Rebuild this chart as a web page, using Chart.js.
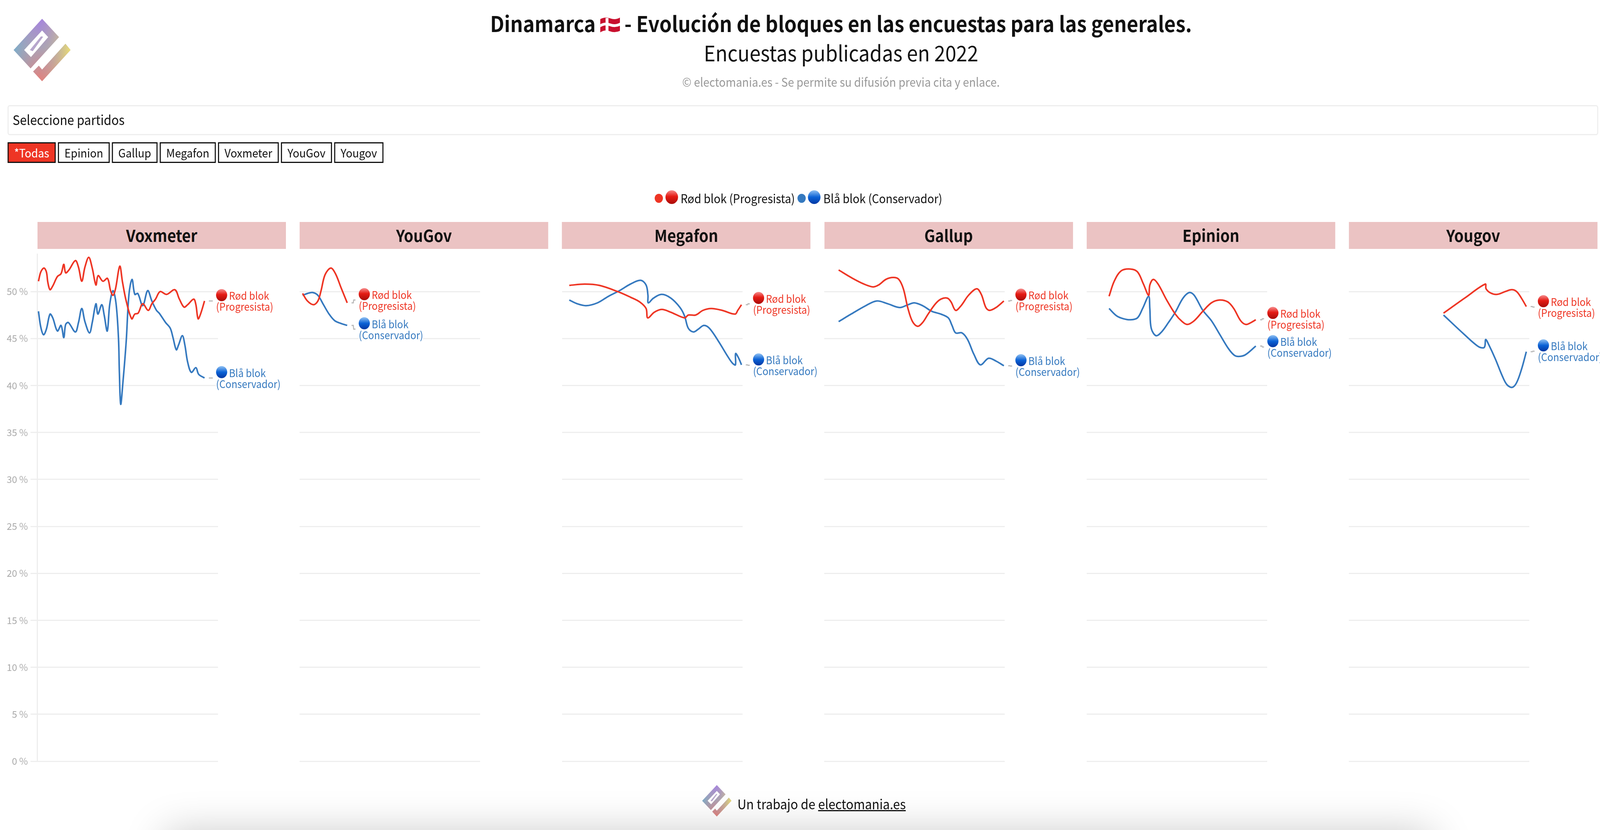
<!DOCTYPE html>
<html lang="es">
<head>
<meta charset="utf-8">
<title>Dinamarca - Evolución de bloques</title>
<script src="https://cdn.jsdelivr.net/npm/chart.js@4"></script>
<style>
    html, body { margin: 0; padding: 0; background: #fff; height: 2124px; overflow: hidden; }
    body { font-family: "Noto Sans CJK JP", "Noto Sans", sans-serif; color: #111; position: relative; }
    #page { position: absolute; left: 0; top: 0; width: 4448px; height: 2124px; overflow: hidden; transform-origin: 0 0; }
    #plots { position: absolute; left: 0; top: 0; width: 100%; height: 2124px; overflow: hidden; }
    .abs { position: absolute; white-space: nowrap; }
    .center { left: 2338px; transform: translateX(-50%); }
    #title { top: 20px; font-size: 55px; font-weight: 700; line-height: 76px; }
    #subtitle { top: 95px; font-size: 55px; line-height: 76px; }
    #copy { top: 186px; font-size: 30.8px; line-height: 46px; color: #999; }
    #select { left: 21px; top: 269px; width: 4416px; height: 71px; border: 3px solid #eee; border-radius: 6px; font-size: 34px; line-height: 67px; text-indent: 11px; }
    .btn { top: 364px; height: 47px; border: 3px solid #111; font-size: 30px; line-height: 47px; text-align: center; box-sizing: content-box; }
    .btn.on { background: #ee3524; color: #fff; }
    #legend { top: 482px; height: 50px; font-size: 31px; line-height: 50px; left: 0; width: 100%; }
    #legend span { position: absolute; }
    .dot { width: 23px; height: 23px; border-radius: 50%; top: 14px; }
    .ball { width: 35px; height: 35px; border-radius: 50%; top: 5px; }
    .ball.r { background: linear-gradient(#f58a8a, #e51b14 45%, #a90d0a); }
    .ball.b { background: linear-gradient(#8fc0f2, #0b62d6 50%, #0338a3); }
    .head { top: 568px; height: 69px; width: 691px; background: #ebc3c3; font-size: 42px; font-weight: 700; line-height: 66px; text-align: center; }
    canvas { position: absolute; display: block; }
    #foot { left: 2050px; top: 2030px; font-size: 34.4px; line-height: 52px; }
    #foot u { text-decoration-thickness: 3px; }
    #shade { left: 460px; top: 2130px; width: 3520px; height: 200px; box-shadow: 0 0 110px rgba(0,0,0,.22); }
</style>
</head>
<body>
<div id="page">
<svg width="0" height="0" style="position:absolute">
    <defs>
        <linearGradient id="logoV" x1="0" y1="0" x2="0" y2="1">
            <stop offset="0" stop-color="#a583e0"/>
            <stop offset=".45" stop-color="#a9a3b8"/>
            <stop offset="1" stop-color="#e4807a"/>
        </linearGradient>
        <linearGradient id="logoH" x1="0" y1="0" x2="1" y2="0">
            <stop offset="0" stop-color="#6fb0d0" stop-opacity=".8"/>
            <stop offset=".45" stop-color="#b0a0b0" stop-opacity="0"/>
            <stop offset="1" stop-color="#eee070" stop-opacity=".95"/>
        </linearGradient>
    </defs>
</svg>
<svg class="abs" style="left:0;top:0" width="220" height="220">
    <g id="logoShape">
        <path fill="url(#logoV)" fill-rule="evenodd" d="M117 48L164 95L85 175L38 128ZM117 78L67 128L86 146L134 95ZM182 112L196 128L117 208L92 183L108 168L117 178Z"/>
        <path fill="url(#logoH)" fill-rule="evenodd" d="M117 48L164 95L85 175L38 128ZM117 78L67 128L86 146L134 95ZM182 112L196 128L117 208L92 183L108 168L117 178Z"/>
        <path fill="#b7a6cc" d="M114 93L120 94L91 131L83 128Z"/>
    </g>
</svg>
<div id="title" class="abs center">Dinamarca <svg width="55" height="40" viewBox="0 0 55 40" style="vertical-align:-2px"><path fill="#c8102e" d="M0 5Q14 -2 28 3T55 1V35Q41 41 27 36T0 39Z"/><path fill="#fff" d="M15 2H23V38H15Z"/><path fill="#fff" d="M0 18Q14 11 28 16T55 14V22Q41 28 27 23T0 26Z"/></svg> - Evolución de bloques en las encuestas para las generales.</div>
<div id="subtitle" class="abs center">Encuestas publicadas en 2022</div>
<div id="copy" class="abs center">© electomania.es - Se permite su difusión previa cita y enlace.</div>
<div id="select" class="abs">Seleccione partidos</div>
<div id="buttons"></div>
<div id="legend" class="abs">
    <span class="dot" style="left:1820px;background:#ee3524"></span>
    <span class="ball r" style="left:1850px"></span>
    <span style="left:1892px">Rød blok (Progresista)</span>
    <span class="dot" style="left:2217px;background:#3579bf"></span>
    <span class="ball b" style="left:2246px"></span>
    <span style="left:2289px">Blå blok (Conservador)</span>
</div>
<div id="heads"></div>
<svg class="abs" style="left:1948px;top:2005px" width="90" height="88" viewBox="30 40 175 175" preserveAspectRatio="none">
    <use href="#logoShape"/>
</svg>
<div id="foot" class="abs">Un trabajo de <u>electomania.es</u></div>
<div id="shade" class="abs"></div>
</div>
<div id="plots"></div>

<script>
var pollFilters = ['*Todas', 'Epinion', 'Gallup', 'Megafon', 'Voxmeter', 'YouGov', 'Yougov'];
var yTicks = [0, 5, 10, 15, 20, 25, 30, 35, 40, 45, 50];

// x = day of 2022, y = % of the vote
var voxRedX = [1.9, 6.2, 11.9, 16.3, 18.9, 22.9, 27.9, 36.3, 42.9, 47.9, 51.3, 57.3, 68.9, 74.6, 80.6, 86.3, 93.3, 99.6, 106.3, 110.3, 118.9, 127.3, 132.9, 137.3, 141.9, 149.6, 154.6, 161.3, 171.3, 176.9, 182.9, 191.3, 201.3, 207.9, 214.6, 222.9, 234.6, 249.6, 257.9, 266.3, 272.9, 283.9, 287.9, 291.9, 296.3, 303.6];
var voxRedY = [51.1, 52.1, 52.5, 52.1, 51.0, 50.2, 50.6, 51.6, 51.9, 52.9, 52.0, 52.3, 53.3, 52.6, 51.1, 52.6, 53.65, 52.5, 50.7, 51.7, 51.1, 51.4, 50.1, 49.6, 50.3, 52.7, 51.0, 49.0, 47.1, 47.6, 47.7, 48.7, 48.0, 48.7, 49.2, 50.0, 49.7, 50.2, 49.2, 48.35, 48.6, 49.2, 48.6, 47.1, 47.6, 49.0];
var voxBlueX = [1.9, 6.2, 11.2, 16.3, 22.9, 27.9, 36.3, 42.9, 47.9, 51.3, 56.3, 68.9, 74.6, 80.6, 86.3, 94.6, 99.6, 106.3, 109.9, 116.9, 121.3, 126.9, 131.3, 137.3, 142.9, 147.3, 148.9, 151.3, 155.3, 161.3, 166.3, 171.9, 176.9, 182.3, 191.3, 200.3, 207.9, 216.3, 221.3, 232.9, 241.3, 246.3, 252.3, 256.3, 263.3, 267.9, 272.9, 279.6, 287.9, 292.9, 303.6];
var voxBlueY = [47.9, 46.2, 45.4, 46.0, 47.6, 47.2, 45.8, 46.4, 45.1, 46.5, 46.7, 45.7, 46.7, 48.2, 46.8, 45.6, 46.7, 48.7, 47.6, 48.6, 47.5, 45.8, 48.6, 50.1, 48.7, 45.0, 41.4, 38.0, 40.3, 44.7, 49.7, 51.3, 49.7, 49.8, 48.5, 50.1, 49.0, 48.0, 47.7, 46.7, 46.1, 45.1, 43.8, 44.3, 45.3, 44.3, 42.5, 41.4, 41.9, 41.2, 40.8];

var youGovRedX = [5.4, 14.2, 25.3, 33.2, 39.0, 46.3, 56.8, 65.2, 75.4, 86.5];
var youGovRedY = [49.8, 49.0, 48.6, 49.0, 50.1, 51.8, 52.5, 51.9, 50.4, 48.8];
var youGovBlueX = [5.4, 14.2, 23.5, 33.2, 43.4, 53.6, 63.8, 75.4, 86.5];
var youGovBlueY = [49.6, 49.8, 49.9, 49.6, 48.6, 47.6, 46.9, 46.6, 46.4];

var megafonRedX = [13.0, 41.0, 67.6, 101.0, 124.3, 141.0, 152.6, 155.6, 167.6, 181.0, 197.6, 222.6, 229.3, 242.6, 256.0, 271.0, 291.0, 314.3, 319.3, 326.0];
var megafonRedY = [50.66, 50.8, 50.66, 50.0, 49.4, 48.9, 48.2, 47.2, 47.8, 48.1, 47.8, 47.2, 47.5, 47.5, 48.0, 48.2, 48.0, 47.6, 48.0, 48.6];
var megafonBlueX = [13, 27.6, 43.6, 64.3, 84.3, 104.3, 124.3, 142.6, 152.6, 156, 156.6, 166, 181, 197.6, 214.3, 222.6, 229.3, 238.6, 247.6, 257.6, 267.6, 284.3, 301, 309.3, 315, 315.3, 321, 326];
var megafonBlueY = [49.1, 48.7, 48.5, 48.8, 49.5, 50.1, 50.8, 51.2, 50.7, 49.6, 48.8, 49.3, 49.7, 49.3, 48.3, 47.4, 46.1, 45.7, 46.0, 46.4, 46.1, 44.7, 43.1, 42.4, 42.2, 43.4, 42.9, 42.2];

var gallupRedX = [26.2, 48.8, 72.2, 88.8, 98.8, 112.2, 125.5, 135.5, 143.8, 152.2, 160.5, 169.8, 178.8, 188.8, 202.2, 212.2, 223.8, 230.5, 238.8, 248.8, 262.2, 277.2, 285.5, 293.8, 300.5, 312.2, 326.5];
var gallupRedY = [52.3, 51.5, 50.8, 50.5, 50.7, 51.3, 51.5, 51.3, 50.3, 48.2, 46.8, 46.3, 46.7, 47.6, 48.7, 49.2, 49.3, 48.9, 48.0, 48.5, 49.6, 50.3, 49.7, 48.3, 48.0, 48.3, 49.0];
var gallupBlueX = [26.2, 48.8, 75.5, 95.5, 115.5, 137.2, 152.2, 163.8, 178.8, 195.5, 212.2, 225.5, 232.2, 238.8, 250.5, 260.5, 272.2, 283.8, 298.8, 312.2, 326.5];
var gallupBlueY = [46.8, 47.6, 48.5, 49.0, 48.7, 48.3, 48.6, 48.8, 48.5, 47.9, 47.6, 47.2, 46.4, 45.6, 45.6, 44.9, 43.3, 42.2, 42.9, 42.6, 42.1];

var epinionRedX = [40.6, 50, 62.5, 79.1, 92.2, 103.1, 112.5, 114.7, 121, 129.7, 145.3, 161, 173.5, 182.8, 195.4, 211, 226.6, 241.3, 256.3, 267.2, 279.7, 289.1, 298.5, 307.3];
var epinionRedY = [49.5, 51.1, 52.2, 52.4, 52.1, 50.8, 49.6, 50.7, 51.3, 50.8, 49.1, 47.6, 46.8, 46.5, 46.9, 47.9, 48.8, 49.1, 48.9, 48.2, 46.9, 46.5, 46.7, 47.0];
var epinionBlueX = [40.6, 54.7, 67.2, 79.7, 92.2, 101.6, 112.5, 114.7, 117.2, 126, 136, 148.5, 161, 175, 186.6, 195.4, 211, 226.6, 242.2, 257.9, 268.8, 278.2, 289.1, 307.3];
var epinionBlueY = [48.2, 47.4, 47.1, 47.0, 47.2, 48.2, 49.5, 48.2, 46.1, 45.3, 45.7, 46.7, 47.8, 49.3, 49.9, 49.6, 48.0, 46.9, 45.4, 43.9, 43.2, 43.1, 43.3, 44.2];

var yougovRedX = [172.1, 210.5, 248, 249.4, 257.7, 269.5, 284.2, 296, 305, 313.7, 322.6];
var yougovRedY = [47.7, 49.3, 50.8, 50.3, 49.85, 49.7, 50, 50.2, 50, 49.3, 48.4];
var yougovBlueX = [172.1, 210.5, 234.1, 244.4, 247.3, 248.8, 254.7, 266.5, 278.3, 287.2, 296.9, 304.9, 313.7, 322.6];
var yougovBlueY = [47.5, 45.4, 44.2, 44.0, 44.2, 44.9, 44.3, 42.8, 41.1, 40.1, 39.8, 40.3, 41.7, 43.6];

var RED = '#ee3524';
var BLUE = '#3579bf';
var FONT = '"Noto Sans CJK JP", "Noto Sans", sans-serif';

var panels = [
    { name: 'Voxmeter', rx: voxRedX, ry: voxRedY, bx: voxBlueX, by: voxBlueY, redAt: 49.0, blueAt: 40.8 },
    { name: 'YouGov', rx: youGovRedX, ry: youGovRedY, bx: youGovBlueX, by: youGovBlueY, redAt: 49.1, blueAt: 46.0 },
    { name: 'Megafon', rx: megafonRedX, ry: megafonRedY, bx: megafonBlueX, by: megafonBlueY, redAt: 48.7, blueAt: 42.15 },
    { name: 'Gallup', rx: gallupRedX, ry: gallupRedY, bx: gallupBlueX, by: gallupBlueY, redAt: 49.05, blueAt: 42.07 },
    { name: 'Epinion', rx: epinionRedX, ry: epinionRedY, bx: epinionBlueX, by: epinionBlueY, redAt: 47.1, blueAt: 44.1 },
    { name: 'Yougov', rx: yougovRedX, ry: yougovRedY, bx: yougovBlueX, by: yougovBlueY, redAt: 48.35, blueAt: 43.65 }
];

// the window can come out narrower than the 4448 design width, squeeze x so every panel stays in view
var sx = window.innerWidth / 4448;
document.getElementById('page').style.transform = 'scale(' + sx + ',1)';

// filter buttons
var btnEdges = [[21, 155], [161, 305], [311, 438], [444, 600], [606, 775], [781, 923], [929, 1066]];
pollFilters.forEach(function (txt, i) {
    var b = document.createElement('div');
    b.className = 'abs btn' + (i === 0 ? ' on' : '');
    b.style.left = btnEdges[i][0] + 'px';
    b.style.width = (btnEdges[i][1] - btnEdges[i][0] - 6) + 'px';
    b.textContent = txt;
    document.getElementById('buttons').appendChild(b);
});

function zip(xs, ys) {
    return xs.map(function (x, i) { return { x: x, y: ys[i] }; });
}

function drawBall(ctx, x, y, color) {
    var g = ctx.createLinearGradient(0, y - 15, 0, y + 15);
    if (color === RED) {
        g.addColorStop(0, '#f58a8a'); g.addColorStop(0.45, '#e51b14'); g.addColorStop(1, '#a90d0a');
    } else {
        g.addColorStop(0, '#8fc0f2'); g.addColorStop(0.5, '#0b62d6'); g.addColorStop(1, '#0338a3');
    }
    ctx.fillStyle = g;
    ctx.beginPath();
    ctx.arc(x + 15.5, y, 15.5, 0, Math.PI * 2);
    ctx.fill();
}

function halo(ctx, txt, x, y, color) {
    ctx.strokeStyle = '#fff';
    ctx.lineWidth = 6;
    ctx.lineJoin = 'round';
    ctx.strokeText(txt, x, y);
    ctx.fillStyle = color;
    ctx.fillText(txt, x, y);
}

// end of line labels with the small step connector
var endLabels = {
    id: 'endLabels',
    afterDatasetsDraw: function (chart, args, opts) {
        var ctx = chart.ctx, xs = chart.scales.x, ys = chart.scales.y;
        opts.items.forEach(function (it) {
            var ex = xs.getPixelForValue(it.endX), ey = ys.getPixelForValue(it.endY);
            var ly = ys.getPixelForValue(it.at);
            ctx.save();
            ctx.translate(ex, 0);
            ctx.scale(sx, 1);
            ctx.strokeStyle = '#bbb';
            ctx.lineWidth = 3;
            ctx.beginPath();
            ctx.moveTo(12, ey);
            ctx.lineTo(17, ey);
            ctx.lineTo(18, ly);
            ctx.lineTo(23, ly);
            ctx.stroke();
            ctx.font = '27px ' + FONT;
            ctx.textBaseline = 'middle';
            ctx.textAlign = 'left';
            drawBall(ctx, 32, ly - 15, it.color);
            halo(ctx, it.line1, 68, ly - 13, it.color);
            halo(ctx, it.line2, 32, ly + 15, it.color);
            ctx.restore();
        });
    }
};

var PLOT_W = 502, PLOT_H = 1298, CANVAS_W = 780, AXIS_W = 104;

panels.forEach(function (p, i) {
    var left = AXIS_W + i * 729.2;
    var head = document.createElement('div');
    head.className = 'abs head';
    head.style.left = left + 'px';
    head.textContent = p.name;
    document.getElementById('heads').appendChild(head);

    var first = i === 0;
    var cv = document.createElement('canvas');
    cv.width = Math.round((first ? AXIS_W + CANVAS_W : CANVAS_W) * sx);
    cv.height = PLOT_H + 60;
    cv.style.left = ((first ? 0 : left) * sx) + 'px';
    cv.style.top = '630px';
    document.getElementById('plots').appendChild(cv);

    new Chart(cv.getContext('2d'), {
        type: 'line',
        data: {
            datasets: [
                { label: 'Rød blok (Progresista)', data: zip(p.rx, p.ry), borderColor: RED },
                { label: 'Blå blok (Conservador)', data: zip(p.bx, p.by), borderColor: BLUE }
            ]
        },
        options: {
            responsive: false,
            animation: false,
            devicePixelRatio: 1,
            layout: { padding: { top: 20, bottom: 40, left: 0, right: (CANVAS_W - PLOT_W) * sx } },
            elements: {
                point: { radius: 0 },
                line: { borderWidth: 4, tension: 0.35, fill: false, borderCapStyle: 'butt' }
            },
            plugins: {
                legend: { display: false },
                tooltip: { enabled: false },
                endLabels: {
                    items: [
                        { endX: p.rx[p.rx.length - 1], endY: p.ry[p.ry.length - 1], at: p.redAt, color: RED, line1: 'Rød blok', line2: '(Progresista)' },
                        { endX: p.bx[p.bx.length - 1], endY: p.by[p.by.length - 1], at: p.blueAt, color: BLUE, line1: 'Blå blok', line2: '(Conservador)' }
                    ]
                }
            },
            scales: {
                x: { type: 'linear', display: false, min: 0, max: 328 },
                y: {
                    min: 0,
                    max: 54,
                    afterBuildTicks: function (s) { s.ticks = yTicks.map(function (v) { return { value: v }; }); },
                    afterFit: function (s) { s.width = first ? AXIS_W * sx : 0; s.paddingTop = 0; s.paddingBottom = 0; },
                    border: { display: first, color: '#eee', width: 3 },
                    grid: { color: '#eee', lineWidth: 3, tickLength: first ? 19 * sx : 0, drawTicks: first, tickColor: '#eee' },
                    ticks: {
                        display: first,
                        padding: 7,
                        color: '#aaa',
                        font: { family: FONT, size: 24 },
                        callback: function (v) { return v + ' %'; }
                    }
                }
            }
        },
        plugins: [endLabels]
    });
});
</script>
</body>
</html>
